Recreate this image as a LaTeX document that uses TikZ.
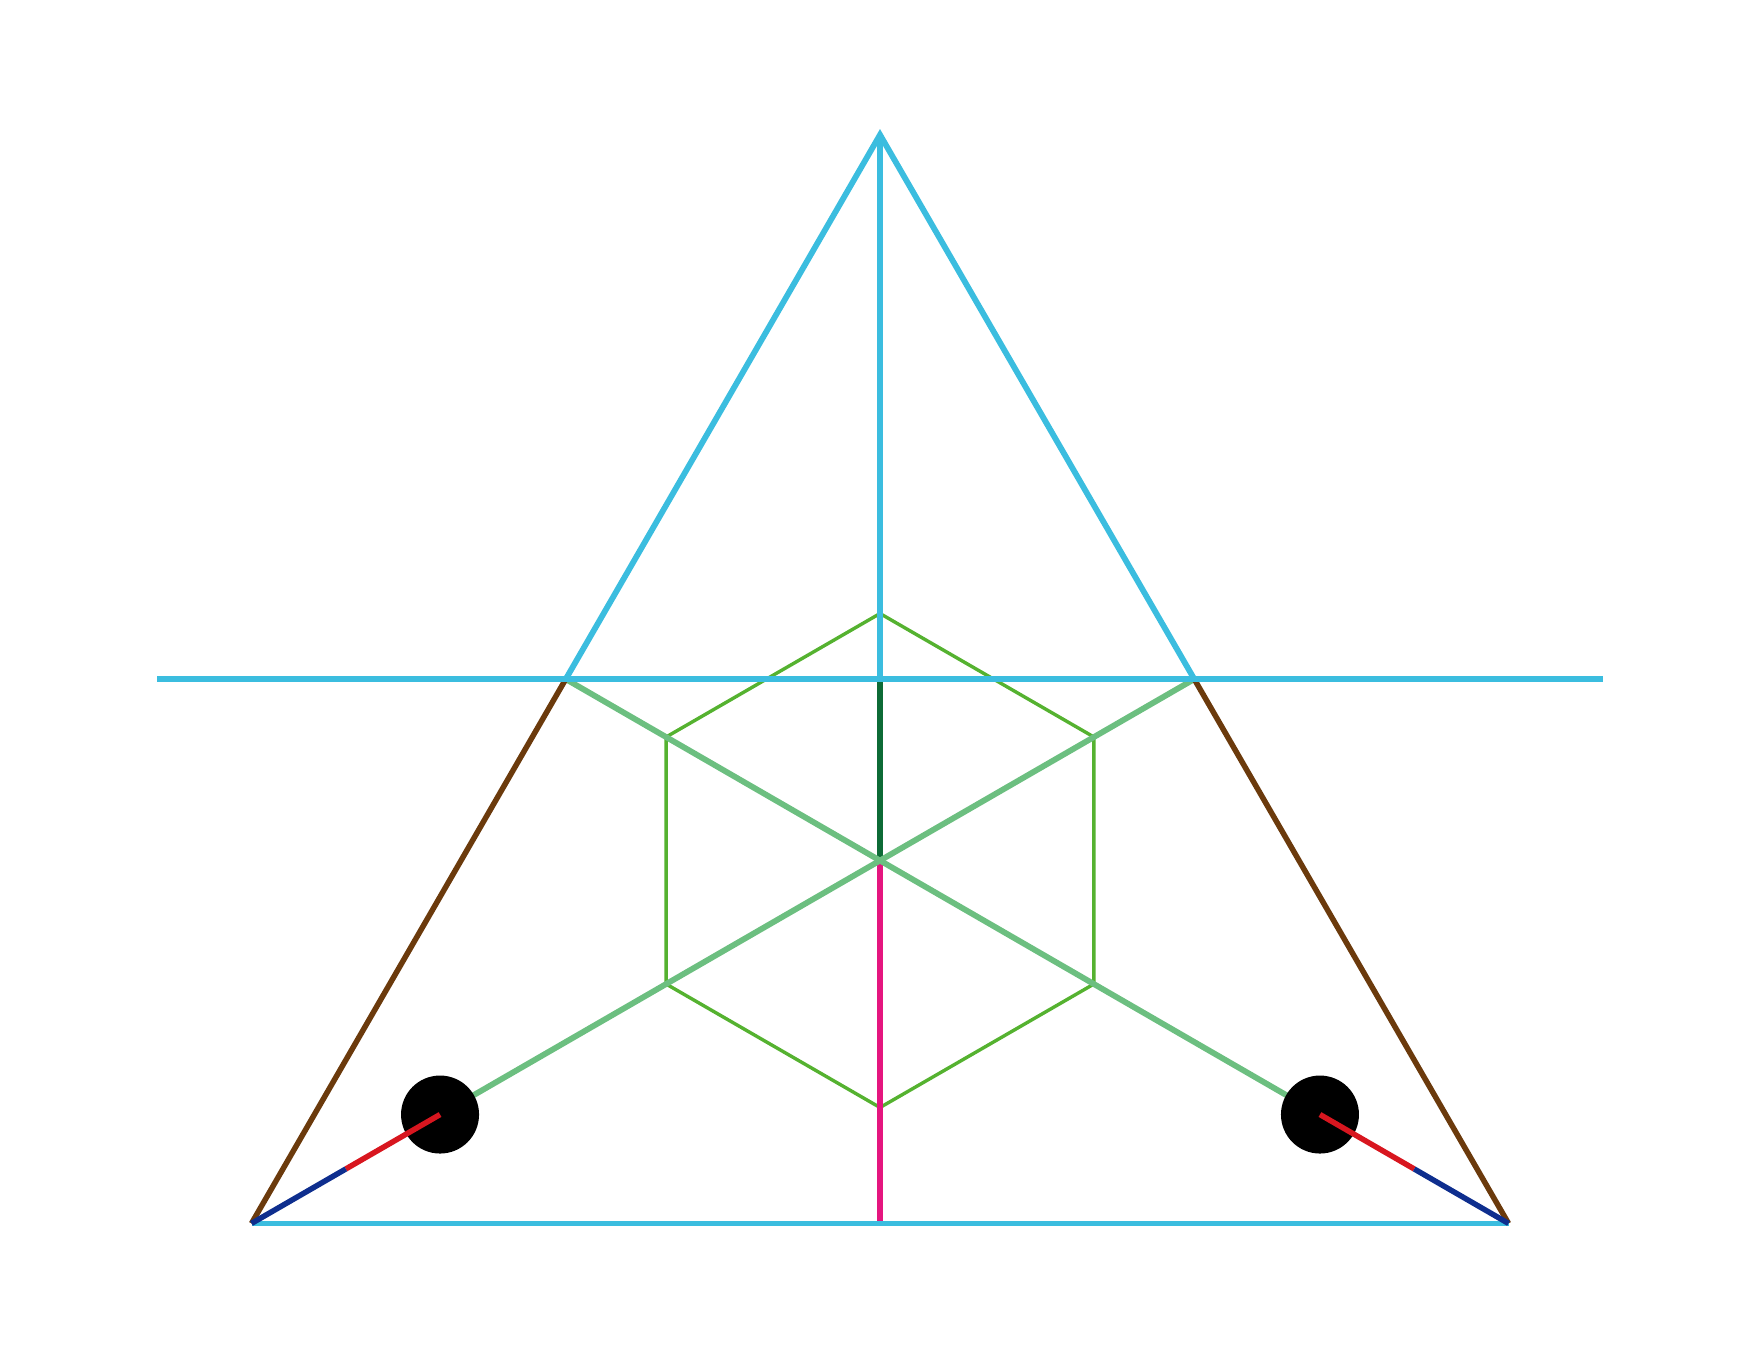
\documentclass[tikz,border=0pt]{standalone}
\usetikzlibrary{calc}
\definecolor{cyanl}{HTML}{3BBDDF}
\definecolor{hexg}{HTML}{55B230}
\definecolor{lightg}{HTML}{6CBF80}
\definecolor{darkg}{HTML}{0D6B36}
\definecolor{mag}{HTML}{E5157F}
\definecolor{brownl}{HTML}{6B3A0C}
\definecolor{redl}{HTML}{D8161F}
\definecolor{bluel}{HTML}{0E2E8E}
\tikzset{
  cy/.style={cyanl, line width=5.8pt},
  hexline/.style={hexg, line width=3.4pt, line join=miter},
  med/.style={lightg, line width=5.8pt},
  br/.style={brownl, line width=5.5pt},
  seg/.style={line width=5.5pt},
}
\begin{document}
\begin{tikzpicture}[x=1pt,y=-1pt]
\useasboundingbox (0,0) rectangle (1760,1358);
\coordinate (A) at (880,134.8);
\coordinate (B) at (251.5,1223.4);
\coordinate (C) at (1508.5,1223.4);
\coordinate (MB) at ($(A)!0.5!(B)$);
\coordinate (MC) at ($(A)!0.5!(C)$);
\coordinate (G) at (880,860.5);
\coordinate (HL) at (157,679.1);
\coordinate (HR) at (1603,679.1);
\coordinate (MT) at (880,679.1);
\coordinate (BM) at (880,1223.4);
\coordinate (PB) at ($(B)!0.3!(G)$);
\coordinate (PC) at ($(C)!0.3!(G)$);
\coordinate (QB) at ($(B)!0.5!(PB)$);
\coordinate (QC) at ($(C)!0.5!(PC)$);
% hexagon
\draw[hexline] ($(G)+(0,-247)$) -- ($(G)+(-213.9,-123.5)$) -- ($(G)+(-213.9,123.5)$) -- ($(G)+(0,247)$) -- ($(G)+(213.9,123.5)$) -- ($(G)+(213.9,-123.5)$) -- cycle;
% verticals
\draw[cy] (A) -- (MT);
\draw[darkg, seg] (MT) -- (G);
\draw[mag, seg] (G) -- (BM);
% medians
\draw[med] (MB) -- (PC);
\draw[med] (MC) -- (PB);
% triangle
\draw[cy] (MB) -- (A) -- (MC);
\draw[br] (MB) -- (B);
\draw[br] (MC) -- (C);
\draw[cy] (HL) -- (HR);
\draw[cy] (B) -- (C);
% circles
\fill[black] (PB) circle (39);
\fill[black] (PC) circle (39);
\draw[redl, seg] (PB) -- (QB);
\draw[bluel, seg] (QB) -- (B);
\draw[redl, seg] (PC) -- (QC);
\draw[bluel, seg] (QC) -- (C);
\end{tikzpicture}
\end{document}
